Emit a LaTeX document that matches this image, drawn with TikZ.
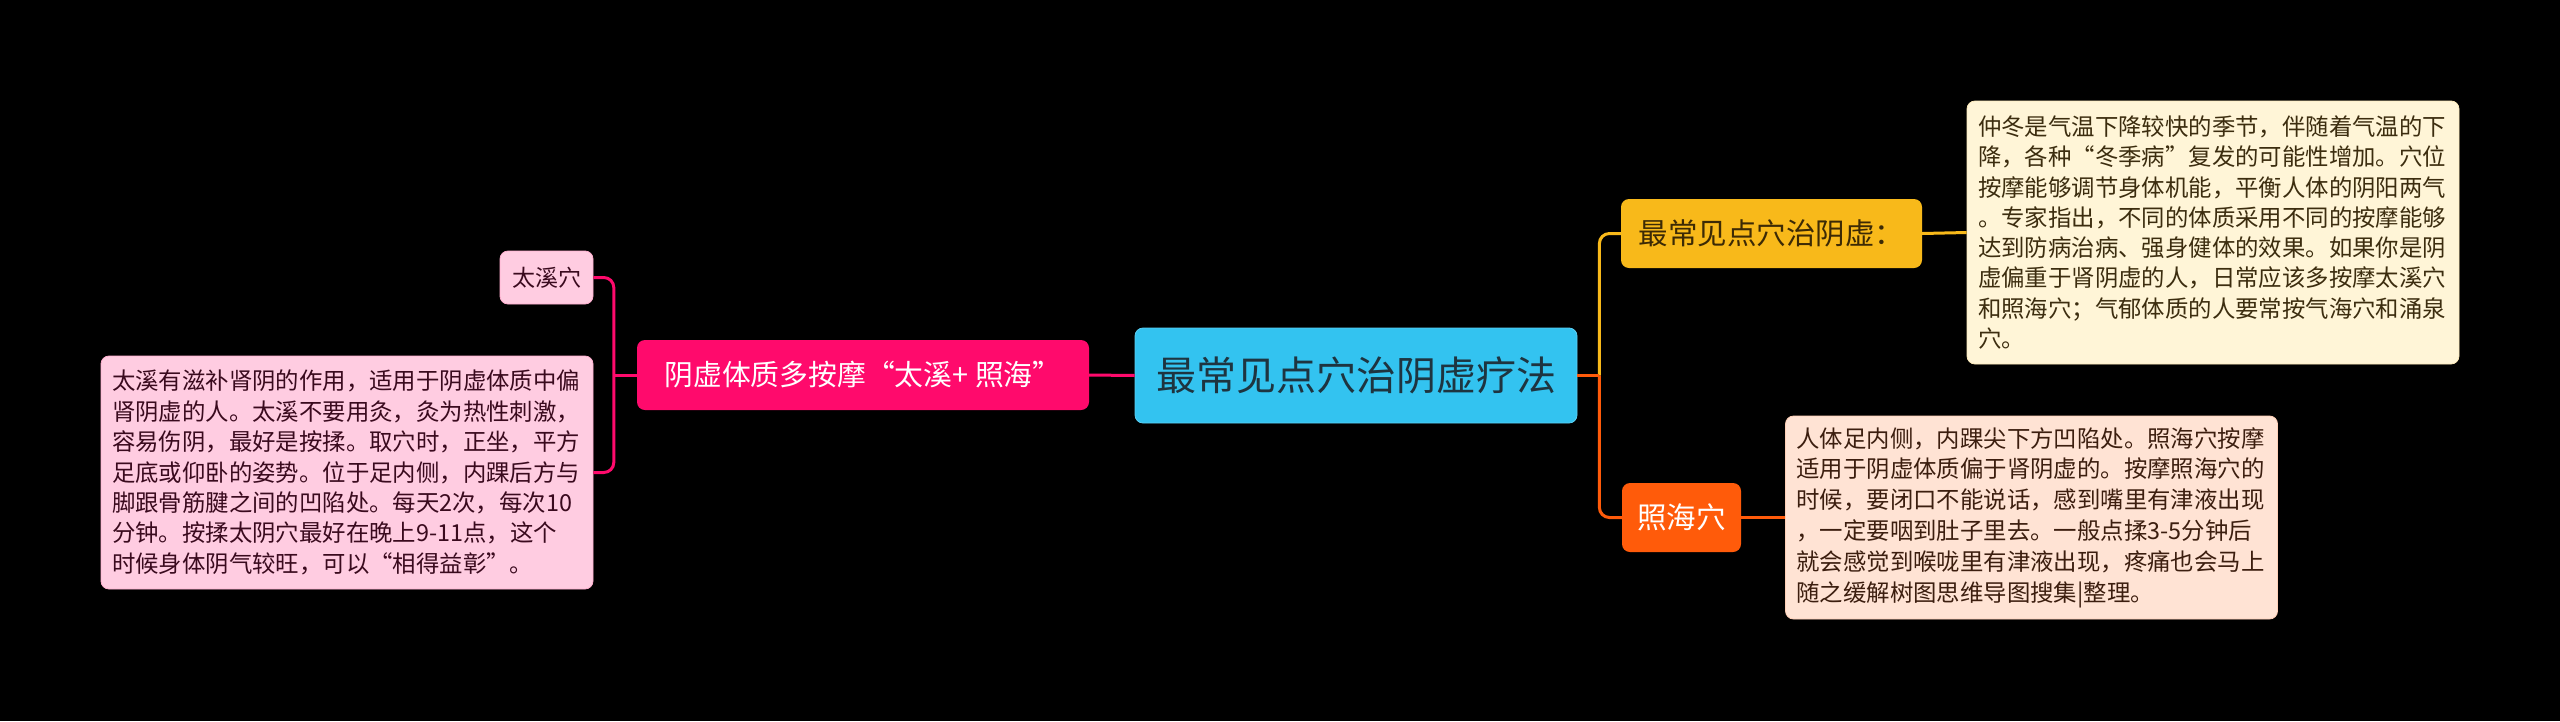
\documentclass[tikz,border=0pt]{standalone}
\usepackage{fontspec}
\newfontfamily\cjk{Noto Sans CJK SC}
\definecolor{rootc}{HTML}{33C3F0}
\definecolor{roott}{HTML}{1E3440}
\definecolor{pinkc}{HTML}{FF0A6C}
\definecolor{palepink}{HTML}{FFCCE1}
\definecolor{pinkt}{HTML}{3A0A1E}
\definecolor{yelc}{HTML}{F8B91A}
\definecolor{yelt}{HTML}{3C2A05}
\definecolor{creamc}{HTML}{FFF5D7}
\definecolor{creamt}{HTML}{3C2D0F}
\definecolor{orc}{HTML}{FF5B0A}
\definecolor{peachc}{HTML}{FFE3D4}
\definecolor{peacht}{HTML}{3C1E0F}
\begin{document}
\begin{tikzpicture}[x=1pt,y=-1pt,
  basebox/.style={rounded corners=8pt, inner sep=0pt, align=center},
  rootbox/.style={basebox, fill=rootc, draw=rootc!80!white, line width=0.8pt, text=roott,
    minimum width=442pt, minimum height=95pt, font=\cjk\fontsize{40}{48}\selectfont},
  lvlone/.style={basebox, minimum height=70pt, font=\cjk\fontsize{29.5}{36}\selectfont},
  smallbox/.style={basebox, fill=palepink, draw=palepink!85!pinkc, line width=0.8pt, text=pinkt,
    minimum width=93pt, minimum height=53pt, font=\cjk\fontsize{23}{28}\selectfont},
  descbox/.style={rounded corners=8pt, inner ysep=0pt, inner xsep=11pt, text width=470pt, align=left,
    line width=0.8pt},
  pk/.style={draw=pinkc, line width=3pt},
  ye/.style={draw=yelc, line width=3pt},
  orl/.style={draw=orc, line width=3pt}
]
\fill[black] (0,0) rectangle (2560,721);
\useasboundingbox (0,0) rectangle (2560,721);

\node[rootbox] (root) at (1356,375.5) {最常见点穴治阴虚疗法};

\node[lvlone, fill=pinkc, text=white, minimum width=452pt, font=\cjk\fontsize{28.8}{36}\selectfont] (lm) at (863,375) {阴虚体质多按摩“太溪+ 照海”};

\node[smallbox] (tx) at (546.5,277.5) {太溪穴};

\node[descbox, fill=palepink, draw=palepink!85!pinkc, text=pinkt, minimum height=233pt,
  font=\cjk\fontsize{23.4}{30.4}\selectfont] (d1) at (347,472.5)
  {太溪有滋补肾阴的作用，适用于阴虚体质中偏\\
   肾阴虚的人。太溪不要用灸，灸为热性刺激，\\
   容易伤阴，最好是按揉。取穴时，正坐，平方\\
   足底或仰卧的姿势。位于足内侧，内踝后方与\\
   脚跟骨筋腱之间的凹陷处。每天2次，每次10\\
   分钟。按揉太阴穴最好在晚上9-11点，这个\\
   时候身体阴气较旺，可以“相得益彰”。};

\node[lvlone, fill=yelc, text=yelt, minimum width=301pt, minimum height=69pt] (r1) at (1771.5,233.5) {最常见点穴治阴虚：};

\node[lvlone, fill=orc, text=white, minimum width=119pt, minimum height=69pt] (r2) at (1681.5,517.5) {照海穴};

\node[descbox, fill=creamc, draw=creamc!85!yelc, text=creamt, minimum height=263pt,
  font=\cjk\fontsize{23.4}{30.3}\selectfont] (d2) at (2213,232.5)
  {仲冬是气温下降较快的季节，伴随着气温的下\\
   降，各种“冬季病”复发的可能性增加。穴位\\
   按摩能够调节身体机能，平衡人体的阴阳两气\\
   。专家指出，不同的体质采用不同的按摩能够\\
   达到防病治病、强身健体的效果。如果你是阴\\
   虚偏重于肾阴虚的人，日常应该多按摩太溪穴\\
   和照海穴；气郁体质的人要常按气海穴和涌泉\\
   穴。};

\node[descbox, fill=peachc, draw=peachc!85!orc, text=peacht, minimum height=203pt,
  font=\cjk\fontsize{23.4}{30.8}\selectfont] (d3) at (2031.5,517.5)
  {人体足内侧，内踝尖下方凹陷处。照海穴按摩\\
   适用于阴虚体质偏于肾阴虚的。按摩照海穴的\\
   时候，要闭口不能说话，感到嘴里有津液出现\\
   ，一定要咽到肚子里去。一般点揉3-5分钟后\\
   就会感觉到喉咙里有津液出现，疼痛也会马上\\
   随之缓解树图思维导图搜集|整理。};

\coordinate (lj) at ([xshift=-23pt]lm.west);
\coordinate (rj) at ([xshift=22pt]root.east);

\draw[pk] (root.west) -- (lm.east);
\draw[pk, rounded corners=10pt] (tx.east) -| (lj) |- (d1.east);
\draw[pk] (lm.west) -- (lj);

\draw[ye, rounded corners=10pt] (r1.west) -| (rj);
\draw[orl, rounded corners=10pt] (rj) |- (r2.west);
\draw[orl] (root.east) -- (rj);
\draw[ye] (r1.east) -- (d2.west);
\draw[orl] (r2.east) -- (d3.west);
\end{tikzpicture}
\end{document}
